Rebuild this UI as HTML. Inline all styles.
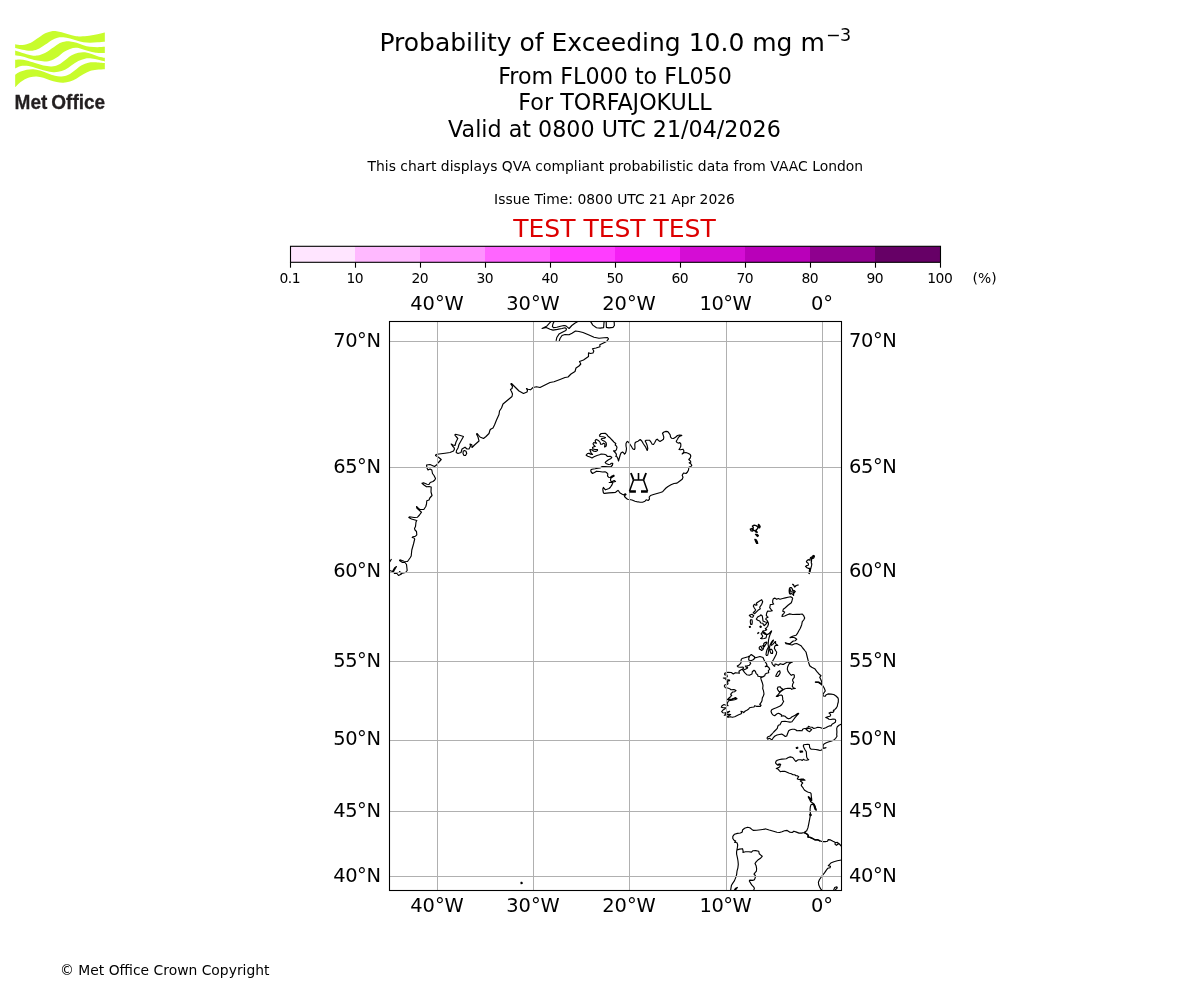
<!DOCTYPE html>
<html lang="en"><head><meta charset="utf-8"><title>Probability of Exceeding 10.0 mg m-3</title>
<style>
html,body{margin:0;padding:0;background:#fff;}
body{width:1200px;height:1000px;overflow:hidden;font-family:"DejaVu Sans","Liberation Sans",sans-serif;}
svg{display:block;position:absolute;left:0;top:0;}
text{font-family:"DejaVu Sans","Liberation Sans",sans-serif;fill:#000;}
.t18{font-size:25px;}
.t16{font-size:22.22px;}
.t14{font-size:19.44px;}
.t10{font-size:13.89px;}
.m{text-anchor:middle;}
.tk{letter-spacing:-0.5px;}
.lat{letter-spacing:-0.4px;}
.e{text-anchor:end;}
.grid{stroke:#b0b0b0;stroke-width:1;fill:none;}
.coast{stroke:#000;stroke-width:1.15;fill:none;stroke-linejoin:round;stroke-linecap:butt;}
</style></head><body>
<svg width="1200" height="1000" viewBox="0 0 1200 1000">
<g id="logo">
<path d="M15.17,44.17 C16.39,44.31 19.89,45.25 22.50,45.00 C25.11,44.75 28.06,43.96 30.83,42.67 C33.61,41.38 36.67,38.85 39.17,37.25 C41.67,35.65 43.75,34.10 45.83,33.08 C47.92,32.07 49.86,31.49 51.67,31.17 C53.47,30.85 55.00,30.99 56.67,31.17 C58.33,31.35 59.72,31.72 61.67,32.25 C63.61,32.78 66.11,33.71 68.33,34.33 C70.56,34.96 72.92,35.65 75.00,36.00 C77.08,36.35 78.47,36.44 80.83,36.42 C83.19,36.39 86.39,36.18 89.17,35.83 C91.94,35.49 94.89,34.89 97.50,34.33 C100.11,33.78 103.61,32.81 104.83,32.50 L104.83,41.67 C103.61,41.76 99.97,42.08 97.50,42.25 C95.03,42.42 92.36,42.67 90.00,42.67 C87.64,42.67 85.56,42.60 83.33,42.25 C81.11,41.90 78.89,41.21 76.67,40.58 C74.44,39.96 72.22,39.06 70.00,38.50 C67.78,37.94 65.42,37.39 63.33,37.25 C61.25,37.11 59.44,37.18 57.50,37.67 C55.56,38.15 53.75,38.99 51.67,40.17 C49.58,41.35 47.36,43.22 45.00,44.75 C42.64,46.28 39.86,48.32 37.50,49.33 C35.14,50.35 33.33,50.76 30.83,50.83 C28.33,50.90 25.11,50.21 22.50,49.75 C19.89,49.29 16.39,48.36 15.17,48.08 Z" fill="#c8fc2c"/>
<path d="M15.17,50.58 C16.39,51.00 19.89,52.32 22.50,53.08 C25.11,53.85 28.33,54.75 30.83,55.17 C33.33,55.58 35.14,55.93 37.50,55.58 C39.86,55.24 42.64,54.26 45.00,53.08 C47.36,51.90 49.44,50.03 51.67,48.50 C53.89,46.97 56.25,45.03 58.33,43.92 C60.42,42.81 62.22,42.25 64.17,41.83 C66.11,41.42 67.92,41.28 70.00,41.42 C72.08,41.56 74.44,42.04 76.67,42.67 C78.89,43.29 81.11,44.47 83.33,45.17 C85.56,45.86 87.64,46.49 90.00,46.83 C92.36,47.18 95.03,47.25 97.50,47.25 C99.97,47.25 103.61,46.90 104.83,46.83 L104.83,53.08 C103.33,53.01 98.58,53.01 95.83,52.67 C93.08,52.32 90.69,51.62 88.33,51.00 C85.97,50.38 83.75,49.44 81.67,48.92 C79.58,48.39 77.78,47.83 75.83,47.83 C73.89,47.83 71.94,48.25 70.00,48.92 C68.06,49.58 66.11,50.58 64.17,51.83 C62.22,53.08 60.42,55.03 58.33,56.42 C56.25,57.81 53.89,59.33 51.67,60.17 C49.44,61.00 47.36,61.35 45.00,61.42 C42.64,61.49 39.86,61.00 37.50,60.58 C35.14,60.17 33.33,59.61 30.83,58.92 C28.33,58.22 25.11,57.04 22.50,56.42 C19.89,55.79 16.39,55.38 15.17,55.17 Z" fill="#c8fc2c"/>
<path d="M15.17,59.75 C15.97,59.71 18.08,59.36 20.00,59.50 C21.92,59.64 24.17,59.99 26.67,60.58 C29.17,61.18 32.22,62.25 35.00,63.08 C37.78,63.92 40.56,65.03 43.33,65.58 C46.11,66.14 49.17,66.56 51.67,66.42 C54.17,66.28 56.11,65.79 58.33,64.75 C60.56,63.71 62.78,61.76 65.00,60.17 C67.22,58.57 69.44,56.42 71.67,55.17 C73.89,53.92 76.11,53.15 78.33,52.67 C80.56,52.18 82.78,52.04 85.00,52.25 C87.22,52.46 89.44,53.22 91.67,53.92 C93.89,54.61 96.14,55.76 98.33,56.42 C100.53,57.07 103.75,57.60 104.83,57.83 L104.83,61.42 C103.75,61.14 100.53,60.24 98.33,59.75 C96.14,59.26 93.89,58.68 91.67,58.50 C89.44,58.32 87.22,58.25 85.00,58.67 C82.78,59.08 80.56,59.92 78.33,61.00 C76.11,62.08 73.89,63.71 71.67,65.17 C69.44,66.62 67.22,68.64 65.00,69.75 C62.78,70.86 60.56,71.46 58.33,71.83 C56.11,72.21 54.17,72.28 51.67,72.00 C49.17,71.72 46.11,70.89 43.33,70.17 C40.56,69.44 37.78,68.39 35.00,67.67 C32.22,66.94 29.17,66.08 26.67,65.83 C24.17,65.58 21.92,65.72 20.00,66.17 C18.08,66.61 15.97,68.11 15.17,68.50 Z" fill="#c8fc2c"/>
<path d="M15.17,74.75 C15.97,74.26 18.08,72.67 20.00,71.83 C21.92,71.00 24.44,70.19 26.67,69.75 C28.89,69.31 31.11,69.03 33.33,69.17 C35.56,69.31 37.64,69.89 40.00,70.58 C42.36,71.28 45.00,72.46 47.50,73.33 C50.00,74.21 52.64,75.32 55.00,75.83 C57.36,76.35 59.44,76.60 61.67,76.42 C63.89,76.24 66.11,75.79 68.33,74.75 C70.56,73.71 72.78,71.76 75.00,70.17 C77.22,68.57 79.44,66.42 81.67,65.17 C83.89,63.92 86.11,63.15 88.33,62.67 C90.56,62.18 92.25,62.18 95.00,62.25 C97.75,62.32 103.19,62.94 104.83,63.08 L104.83,69.33 C103.47,69.40 99.14,69.47 96.67,69.75 C94.19,70.03 92.22,70.24 90.00,71.00 C87.78,71.76 85.56,73.08 83.33,74.33 C81.11,75.58 78.89,77.32 76.67,78.50 C74.44,79.68 72.22,80.72 70.00,81.42 C67.78,82.11 65.56,82.57 63.33,82.67 C61.11,82.76 58.89,82.42 56.67,82.00 C54.44,81.58 52.22,80.89 50.00,80.17 C47.78,79.44 45.56,78.29 43.33,77.67 C41.11,77.04 38.89,76.49 36.67,76.42 C34.44,76.35 32.22,76.62 30.00,77.25 C27.78,77.88 25.28,79.06 23.33,80.17 C21.39,81.28 19.69,82.74 18.33,83.92 C16.97,85.10 15.69,86.69 15.17,87.25 Z" fill="#c8fc2c"/>
<text x="14.6" y="108.8" textLength="90.6" lengthAdjust="spacingAndGlyphs" style="font-family:'Liberation Sans','DejaVu Sans',sans-serif;font-weight:bold;font-size:21px;fill:#231f20;stroke:#231f20;stroke-width:0.3px;word-spacing:-1.5px">Met Office</text>
</g>
<text class="t18 m" x="615" y="51.2">Probability of Exceeding 10.0 mg m<tspan font-size="17.5px" dx="1.2" dy="-10.2" style="letter-spacing:-0.6px">−3</tspan></text>
<text class="t16 m" x="615" y="83.6">From FL000 to FL050</text>
<text class="t16 m" x="615" y="109.9">For TORFAJOKULL</text>
<text class="t16 m" x="614.5" y="137.3">Valid at 0800 UTC 21/04/2026</text>
<text class="t10 m" x="615.3" y="171" style="letter-spacing:0.01px">This chart displays QVA compliant probabilistic data from VAAC London</text>
<text class="t10 m" x="614.5" y="204.2">Issue Time: 0800 UTC 21 Apr 2026</text>
<text class="t18 m" x="614.5" y="237.1" style="fill:#dd0000">TEST TEST TEST</text>
<rect x="290.00" y="246.3" width="65.50" height="16.0" fill="#ffe5ff"/>
<rect x="355.00" y="246.3" width="65.50" height="16.0" fill="#ffb9ff"/>
<rect x="420.00" y="246.3" width="65.50" height="16.0" fill="#ff92ff"/>
<rect x="485.00" y="246.3" width="65.50" height="16.0" fill="#ff65ff"/>
<rect x="550.00" y="246.3" width="65.50" height="16.0" fill="#ff3dff"/>
<rect x="615.00" y="246.3" width="65.50" height="16.0" fill="#f41ff4"/>
<rect x="680.00" y="246.3" width="65.50" height="16.0" fill="#d40dd4"/>
<rect x="745.00" y="246.3" width="65.50" height="16.0" fill="#b900b9"/>
<rect x="810.00" y="246.3" width="65.50" height="16.0" fill="#8f008f"/>
<rect x="875.00" y="246.3" width="65.50" height="16.0" fill="#660066"/>
<rect x="290.5" y="246.3" width="650.0" height="16.0" fill="none" stroke="#000" stroke-width="1.1"/>
<line x1="290.50" y1="262.3" x2="290.50" y2="267.70" stroke="#000" stroke-width="1.1"/>
 <text class="t10 m tk" x="289.80" y="282.9">0.1</text>
<line x1="355.50" y1="262.3" x2="355.50" y2="267.70" stroke="#000" stroke-width="1.1"/>
 <text class="t10 m tk" x="354.80" y="282.9">10</text>
<line x1="420.50" y1="262.3" x2="420.50" y2="267.70" stroke="#000" stroke-width="1.1"/>
 <text class="t10 m tk" x="419.80" y="282.9">20</text>
<line x1="485.50" y1="262.3" x2="485.50" y2="267.70" stroke="#000" stroke-width="1.1"/>
 <text class="t10 m tk" x="484.80" y="282.9">30</text>
<line x1="550.50" y1="262.3" x2="550.50" y2="267.70" stroke="#000" stroke-width="1.1"/>
 <text class="t10 m tk" x="549.80" y="282.9">40</text>
<line x1="615.50" y1="262.3" x2="615.50" y2="267.70" stroke="#000" stroke-width="1.1"/>
 <text class="t10 m tk" x="614.80" y="282.9">50</text>
<line x1="680.50" y1="262.3" x2="680.50" y2="267.70" stroke="#000" stroke-width="1.1"/>
 <text class="t10 m tk" x="679.80" y="282.9">60</text>
<line x1="745.50" y1="262.3" x2="745.50" y2="267.70" stroke="#000" stroke-width="1.1"/>
 <text class="t10 m tk" x="744.80" y="282.9">70</text>
<line x1="810.50" y1="262.3" x2="810.50" y2="267.70" stroke="#000" stroke-width="1.1"/>
 <text class="t10 m tk" x="809.80" y="282.9">80</text>
<line x1="875.50" y1="262.3" x2="875.50" y2="267.70" stroke="#000" stroke-width="1.1"/>
 <text class="t10 m tk" x="874.80" y="282.9">90</text>
<line x1="940.50" y1="262.3" x2="940.50" y2="267.70" stroke="#000" stroke-width="1.1"/>
 <text class="t10 m tk" x="939.80" y="282.9">100</text>
<text class="t10" x="972.6" y="282.9">(%)</text>
<g id="map"><clipPath id="mc"><rect x="389.5" y="321.5" width="452.0" height="569.0"/></clipPath>
<rect x="389.5" y="321.5" width="452.0" height="569.0" fill="#fff"/>
<g clip-path="url(#mc)">
<path class="coast" d="M389.0,570.2L392.5,571.5L394.5,568.0L396.5,566.5L395.0,569.0L393.5,571.5L394.5,573.5L397.0,573.5L398.5,575.5L401.5,574.0L399.5,571.5L401.5,573.5L405.5,572.5L407.2,570.5L406.5,564.5L405.0,562.5L402.5,562.5L399.5,560.5L400.0,559.8L404.0,561.2L407.5,561.5L410.0,558.0L411.2,556.0L411.8,550.0L413.5,544.0L414.7,539.0L414.0,538.0L412.2,537.5L413.0,536.8L415.5,536.2L416.8,534.8L416.5,531.5L415.0,530.0L414.5,528.5L415.5,526.5L416.0,522.0L416.8,520.5L415.0,520.0L411.5,519.0L408.8,517.5L409.5,516.8L414.0,517.5L417.5,517.2L419.5,515.0L421.5,512.2L419.0,510.0L416.8,508.0L416.5,506.5L418.5,508.5L420.0,509.5L423.8,509.5L425.8,506.5L426.5,504.0L426.8,500.8L429.0,500.0L429.8,498.0L432.0,495.5L431.0,492.0L431.2,487.0L429.0,486.5L426.5,486.8L424.0,485.0L422.0,483.2L423.5,482.8L427.0,484.2L429.0,484.5L430.2,482.5L433.0,481.5L434.8,480.0M389.0,562.2L390.0,561.5L391.5,559.0M434.8,480.0L435.5,478.5L434.0,475.5L432.5,473.5L431.8,470.0L430.0,469.0L428.0,470.0L427.0,468.0L426.5,465.0L430.0,464.5L434.5,466.5L436.5,465.0L438.5,462.5L441.2,459.5L438.5,457.2L435.5,455.5L436.0,454.5L439.0,454.0L445.0,453.2L450.0,452.5L453.5,451.0L454.5,449.0L454.0,447.5L452.5,446.0L451.2,444.0L453.0,445.0L455.0,445.5L456.0,442.0L457.8,438.5L456.5,437.0L454.8,435.0L455.5,434.3L459.5,435.2L463.5,436.5L461.5,440.0L459.0,444.5L458.0,448.0L456.5,450.5L456.2,452.5L458.0,453.5L461.0,452.5L462.0,449.0L465.0,447.2L467.0,449.0L469.0,449.0L470.5,446.0L470.0,444.0L471.8,444.8L472.0,447.5L474.5,445.0L479.0,441.0L478.0,437.0L476.5,434.0L477.2,433.5L480.0,437.0L483.5,438.5L486.0,436.5L489.0,433.5L490.0,430.0L491.0,429.0L493.0,428.0L494.5,425.0L496.5,420.0L499.0,414.5L499.5,411.0L501.5,408.0L503.0,404.0L506.0,401.5L509.0,399.0L512.0,396.5L512.5,394.0L511.5,391.5L510.5,390.0M463.2,451.2L463.0,453.5L464.0,455.5L465.5,455.5L466.7,453.5L466.0,451.2L464.5,450.5ZM510.5,390.0L510.5,389.5L512.0,388.5L512.5,386.5L510.8,384.0L511.5,383.5L515.0,387.0L519.0,391.0L523.5,393.5L527.0,392.0L527.5,390.5L526.5,388.5L528.0,389.2L530.5,389.8L533.0,387.5L536.5,386.8L540.0,387.5L545.0,385.0L550.0,382.5L554.0,381.8L560.0,379.5L565.0,377.5L568.0,377.0L571.0,374.0L575.0,371.5L576.0,368.0L579.0,366.0L580.8,364.0L579.5,361.5L583.5,360.0L588.5,356.5L588.5,352.8L590.5,353.5L593.0,353.0L593.8,351.0L592.5,348.8L596.0,348.0L600.0,346.8L599.8,344.8L603.0,343.2L606.5,341.5L608.5,338.8L607.5,337.5L604.0,337.8L599.0,338.2L594.0,337.2L589.0,335.0L583.0,332.5L579.0,331.5L575.5,331.0L572.0,333.2L569.0,334.8L565.0,334.5L562.0,335.5L560.0,338.5L559.2,341.2M554.1,321.4L552.9,324.0L552.4,326.4L553.4,327.6L556.8,327.3L560.5,326.2L563.9,325.5L565.9,325.9L567.4,327.1L569.1,328.5L571.8,325.5L574.8,323.2L577.8,321.6M551.1,321.4L547.0,325.9L542.1,328.4L546.2,327.5L550.0,329.2L553.0,330.1L557.5,329.4L562.0,328.5L565.0,327.8L566.5,328.9L565.8,330.4L562.8,331.9L559.0,334.1L556.8,337.5L556.1,340.9M590.5,321.4L592.8,325.1L596.5,327.8L600.2,328.1L603.6,327.6L604.1,321.4M606.2,321.4L606.4,327.4L608.9,327.9L613.0,327.4L614.4,325.5L614.1,321.4M599.2,435.5L601.2,433.5L605.0,433.2L606.5,434.2L608.0,436.2L610.0,437.8L612.5,440.5L614.0,442.2L615.8,443.5L615.2,445.0L616.5,446.2L617.0,447.2L616.5,449.5L615.5,450.8L613.5,450.8L614.5,451.8L616.0,453.5L616.5,455.0L615.8,456.5L617.0,456.8L618.0,459.0L618.5,461.0L619.2,458.5L620.2,455.0L621.0,453.0L622.5,452.0L623.8,453.0L624.5,454.2L625.5,453.2L626.2,450.8L626.5,448.5L626.0,446.0L626.0,443.5L626.8,442.0L627.5,441.4L628.8,442.5L629.8,444.0L630.8,445.5L632.2,447.8L633.2,449.2L634.5,449.5L635.0,448.0L634.8,445.0L635.0,443.0L636.0,442.0L638.0,441.2M599.2,435.5L600.2,436.5L603.0,436.8L605.5,437.5L604.5,438.2L602.0,438.5L601.2,439.2L602.2,440.2L604.5,441.2L606.2,442.8L606.4,445.0L605.8,446.5L604.5,447.0L604.8,445.5L605.0,444.0L603.5,443.2L602.2,444.2L600.5,444.2L600.2,442.5L599.0,441.0L597.5,440.0L596.2,439.4L595.2,440.5L595.5,442.2L596.5,443.2L595.0,443.0L593.8,442.5L593.0,443.8L593.8,445.2L595.2,446.5L593.8,446.8L592.5,447.5L593.0,449.0L595.0,449.5L597.5,449.5L597.5,450.5L595.8,451.4L593.8,451.2L592.2,450.0L590.8,449.5L589.8,449.8L590.5,451.2L591.0,453.0L592.5,454.5L590.5,454.2L589.0,453.2L587.5,453.5L586.2,455.2L587.8,456.2L590.0,457.0L592.0,457.9L594.0,456.8L597.0,455.5L599.5,454.8L601.2,454.0L604.0,454.2L606.0,454.8L607.5,456.5L610.0,456.2L611.8,457.2L611.0,458.5L608.5,459.8L606.5,461.2L605.2,462.5L606.0,463.5L608.5,464.5L610.2,464.2L611.5,463.2L612.8,463.2L612.5,465.0L611.2,466.5L608.0,466.8L605.0,466.5L602.2,466.5L600.0,468.0L598.0,468.2L595.0,468.8L592.0,469.2L590.5,470.2M590.5,470.2L591.2,472.0L592.5,473.5L594.5,472.5L596.5,471.2L599.5,471.5L602.5,472.0L605.0,471.8L606.5,472.5L607.8,473.8L607.5,475.8L608.5,477.2L610.2,477.5L612.0,476.0L613.8,475.2L614.2,476.0L612.5,477.0L610.8,478.2L610.5,480.0L611.0,481.5L612.5,481.2L614.2,480.5L615.5,481.5L613.5,482.0L611.0,482.5L609.2,482.5L611.0,482.2L612.8,482.8L611.8,485.2L610.2,487.5L609.0,488.5L607.0,489.2L605.5,489.8L604.2,488.5L603.4,487.4L602.8,489.0L603.0,491.0L603.5,493.0L604.5,493.4L609.0,492.9L613.0,492.6L615.5,492.4L616.5,491.5L618.0,490.4L618.8,491.2L619.8,492.8L621.8,494.0L623.8,495.0L625.2,493.8L626.0,494.5L624.8,495.5L624.5,496.5L626.0,498.0L627.5,499.2L629.5,499.5L632.0,500.0L635.0,501.2L638.0,502.0M638.0,441.2L640.2,439.5L641.8,441.0L643.5,444.0L645.5,446.8L646.5,449.0L647.2,450.5L647.8,448.5L647.2,445.5L646.2,443.0L645.2,441.0L646.2,440.2L649.5,440.2L650.8,441.8L652.2,444.2L653.5,444.5L654.8,442.5L656.2,439.8L657.2,439.2L658.5,440.5L660.0,441.4L662.0,440.2L663.5,439.2L663.8,437.2L663.0,434.5L662.5,433.2L664.0,432.0L666.0,431.4L667.8,431.6L669.0,433.2L670.2,434.8L670.5,436.8L671.5,438.2L673.5,438.5L675.5,437.2L677.5,435.5L679.5,435.0L681.8,435.4L679.8,436.2L678.5,437.2L677.5,439.2L676.2,441.2L677.0,442.5L678.8,443.2L679.8,442.5L680.8,443.8L680.8,446.2L680.0,448.0L679.0,449.5L680.5,449.8L683.0,449.2L683.8,450.5L683.8,452.2L682.2,454.0L684.0,452.8L686.0,452.5L688.5,453.5L690.2,454.5L690.8,456.0L690.2,458.0L688.8,459.5L690.5,461.2L690.8,462.2L689.2,462.8L691.0,464.0L691.8,465.2L691.0,466.5M691.0,466.5L689.2,467.0L688.8,468.0L688.5,470.0L687.5,472.0L686.0,473.5L683.5,473.0L682.2,475.2L683.0,477.2L682.2,479.2L680.5,480.5L678.5,482.0L677.0,483.1L674.0,483.5L671.0,484.8L668.0,486.5L666.0,488.0L664.0,490.2L662.5,491.8L660.5,492.5L657.0,493.5L653.5,494.5L650.5,495.5L649.2,497.2L649.5,499.2L648.2,500.5L646.2,499.8L645.0,501.2L642.5,502.2L640.0,502.2L638.0,501.8M813.6,555.4L814.5,556.0L813.9,557.8L813.0,558.4L811.8,558.7L811.5,560.2L811.5,561.7L811.2,562.9L811.8,563.8L811.5,565.9L810.9,568.0L810.3,570.4L810.0,571.9L809.4,571.6L809.5,569.5L809.7,568.3L808.2,568.3L807.0,567.7L805.5,566.4L806.7,565.6L808.2,565.3L808.5,564.1L807.9,562.9L806.7,562.3L806.4,561.4L807.3,560.5L808.2,559.6L809.4,560.2L810.0,559.0L810.6,557.5L811.8,556.9L812.7,556.0ZM789.9,587.6L791.4,587.6L792.3,588.8L792.6,590.3L794.1,590.6L795.3,591.5L794.4,592.7L793.5,593.6L793.6,595.4L792.6,594.2L791.4,593.6L790.2,594.2L789.3,593.0L789.3,591.2L789.5,589.1ZM790.5,589.4L790.8,591.5L792.0,592.1L793.2,591.8M792.7,598.0L792.0,600.7L791.3,602.7L788.0,605.3L785.3,607.7L783.3,609.3L782.7,611.3L784.7,612.0L784.0,613.3L782.3,615.0L782.0,616.5L784.7,616.0L787.3,614.7L789.7,613.9L792.7,614.5L796.7,614.3L800.0,614.3L802.3,614.1L803.7,615.7L804.7,618.0L803.7,620.0L802.3,621.7L801.7,624.7L800.3,628.3L798.7,631.0L797.3,633.7L796.0,635.3L793.3,636.0L791.0,637.0L790.0,637.7L792.7,637.3L794.7,637.7L796.7,639.3L795.3,640.7L793.3,641.0L791.7,642.3L790.0,643.7L787.3,643.3L785.3,642.7L786.0,643.7L788.7,644.3L792.0,645.0L794.7,643.7L796.7,643.5L798.7,644.5L801.0,645.7L802.7,648.0L804.7,650.3M792.7,598.0L790.7,596.7L788.0,597.3L785.3,597.9L782.7,598.5L780.0,599.2L778.3,598.5L776.7,599.3L774.7,598.1L773.3,598.7L772.7,600.7L772.7,602.7L773.7,604.0L772.0,604.5L770.3,604.5L770.0,606.3L769.7,607.7L771.0,609.3L772.3,610.8L770.0,611.3L767.7,611.0L766.7,613.0L766.3,615.3L767.3,616.7L768.0,617.3L766.3,618.0L765.7,619.2L767.3,620.7L768.3,622.7L768.5,624.0L767.7,626.3L766.3,628.0L765.3,628.7L766.7,629.7L765.3,630.5L763.3,630.8M756.3,619.0L758.0,616.7L760.0,615.7L761.0,614.8L762.3,616.0L762.7,618.7L763.0,621.0L765.3,622.0L767.3,622.3L766.0,624.0L764.3,625.7L763.3,624.7L763.0,623.3L760.7,623.0L759.7,621.0L757.7,620.3ZM761.7,599.7L762.7,601.7L761.7,604.3L760.3,606.3L759.7,607.3L760.3,608.7L758.0,610.3L756.0,612.3L754.7,613.7L753.3,612.7L755.0,611.0L755.7,610.0L754.3,608.0L753.3,606.0L754.3,604.3L756.0,605.3L757.0,605.0L756.3,603.3L757.7,602.3L760.0,600.7ZM749.3,615.3L752.0,614.3L753.7,615.7L752.7,617.3L751.0,617.0ZM750.5,619.7L752.0,619.7L752.3,622.0L752.0,624.3L750.7,624.3L750.3,622.0ZM763.4,630.8L762.5,631.5L763.8,632.0L765.1,633.0L766.5,634.3L768.0,634.3L769.4,633.2L770.4,632.0L771.6,630.8L771.3,632.0L770.4,633.8L769.7,635.5L769.0,638.0L768.5,640.4L768.3,642.5L768.1,644.6L768.5,646.7L768.0,648.1L767.1,649.5L766.4,652.0L766.0,654.4L766.5,655.5L767.6,655.3L768.1,653.7L768.5,651.6L768.8,649.5L769.4,648.1L769.7,646.7L770.0,645.3L770.6,643.9L771.5,642.1L772.5,640.8L773.5,640.0L772.9,641.5L771.8,642.9L771.1,644.2L771.5,645.3L772.5,644.6L773.9,643.2L775.0,641.8L775.6,641.5L775.5,643.2L776.0,644.1L777.4,645.0L777.8,645.5L776.4,645.3L775.3,645.6L774.6,646.7L774.4,648.5L775.3,649.9L776.0,650.4M762.0,632.7L761.1,633.8L762.0,634.8L762.7,636.2L762.0,637.6L760.6,638.5L762.0,638.8L764.1,638.5L765.9,638.0L766.5,636.2L766.7,634.8L765.1,634.1L763.8,633.0ZM759.2,647.4L760.2,646.4L762.0,646.0L763.4,645.6L763.8,647.4L763.0,649.5L761.6,650.5L760.6,649.5L759.4,649.1ZM761.0,647.4L762.0,647.8L762.0,649.1M763.8,643.5L765.1,642.5L766.5,642.1L766.9,642.9L765.5,644.6L764.5,646.4L763.6,645.8ZM769.7,649.5L771.1,649.1L772.1,649.9L772.7,651.6L772.5,653.4L771.1,653.4L770.4,652.0ZM804.3,650.0L806.0,652.0L807.0,656.0L808.0,660.0L808.7,662.7L809.7,665.7L811.7,667.3L814.7,668.7L816.7,671.3L818.7,673.7L821.0,675.7L819.7,677.3L820.7,679.3L821.7,681.7L822.0,684.0L820.3,683.0L818.7,682.0L815.3,682.1L818.7,682.5L821.0,684.3L823.0,686.0L824.3,688.3L825.3,691.0L824.0,692.7L823.0,694.3L823.3,696.0L825.0,696.3L826.3,694.7L828.0,693.9L831.0,694.1L833.7,694.5L836.0,696.0L838.0,698.0L838.5,700.0M775.0,650.0L776.7,652.0L776.3,654.3L775.0,656.7L773.7,659.3L772.7,661.0L771.7,662.0L772.3,664.0L773.7,665.7L774.7,666.3L775.0,664.0L776.3,664.3L778.3,665.3L780.3,663.7L782.0,664.3L783.7,664.3L785.7,663.0L787.7,662.1L790.0,662.3L792.3,662.3L790.7,662.7L789.0,664.0L787.7,666.7L787.3,669.0L788.0,671.3L789.7,673.7L791.3,675.3L793.0,674.5L794.3,675.0L794.3,677.3L792.7,679.3L792.7,681.0L793.7,682.3L792.7,684.0L792.3,686.3L793.3,687.7L795.3,688.5L793.0,688.7L791.7,689.3L790.7,688.3L787.7,688.3L785.0,688.8L783.3,689.7L781.0,691.3L779.7,692.7L778.3,694.3L776.3,696.3L778.0,696.3L779.3,695.3L781.3,695.0L782.3,695.7L782.7,698.0L782.7,700.0M777.3,688.7L778.0,687.0L780.0,686.7L781.3,688.3L783.0,689.3L781.0,690.8L779.3,691.9L778.3,690.7ZM775.7,676.3L776.7,674.0L778.0,671.7L779.7,670.7L780.2,672.7L779.3,674.7L777.7,676.5ZM724.3,674.0L725.3,673.0L728.0,672.3L731.3,672.5L733.3,674.0L735.3,672.7L737.7,673.0L739.3,673.3L739.0,671.3L740.7,670.0L742.7,669.0L743.7,668.0L743.0,667.0L740.7,667.3L738.3,667.0L737.3,666.0L739.3,664.7L740.7,663.3L741.3,661.3L741.0,660.0L742.0,658.5L744.7,657.7L748.0,656.7L750.0,655.7L751.3,654.5L753.0,655.7L754.7,657.0L754.7,658.0L757.3,657.2L760.0,656.5L763.0,657.5L764.0,659.7L765.0,661.7L766.3,663.3L767.0,665.3L765.3,666.7L767.3,666.3L769.0,667.7L769.7,669.3L768.3,670.7L768.7,672.7L766.7,673.3L765.3,674.0L764.7,675.7L762.7,677.0L760.7,677.7L761.3,680.0L762.3,682.7L763.0,685.3L762.7,688.7L763.3,690.0M749.7,656.1L748.8,658.1L748.7,660.0L750.7,660.8L752.7,660.0L754.3,658.7L754.7,657.5M750.3,661.0L750.0,662.3L750.7,663.3L749.3,665.3L747.3,665.7L745.3,666.0L746.3,667.3L747.7,667.0L747.3,668.3L745.3,669.3L743.7,670.0L742.7,670.0L744.7,672.7L746.7,674.7L749.3,675.3L752.0,674.0L752.3,671.7L754.0,670.3L755.3,671.3L756.0,673.3L757.7,675.0L758.0,676.3L760.7,676.7L762.7,676.7L764.7,675.7M724.3,674.0L725.0,675.0L726.7,674.7L727.3,676.3L726.3,677.7L723.3,678.0L725.3,678.7L726.3,680.0L729.3,679.9L729.7,680.7L727.3,681.2L728.0,683.7L727.0,684.5L725.0,684.7L724.3,686.0L725.3,687.7L727.7,688.0L729.7,688.7L730.7,689.7L734.0,689.5L736.0,690.5L734.7,691.7L732.7,692.0L731.3,693.3L730.7,694.7L731.7,695.3L730.3,697.0L728.7,698.3L727.3,699.7L729.3,699.3L732.0,699.0L734.7,698.0L735.3,697.5L737.0,698.7L734.7,699.7L732.0,700.3L728.7,700.8L727.7,702.3L727.0,704.3M727.0,704.3L728.0,705.7L727.0,705.3L725.3,705.0L724.0,704.5L722.0,705.7L721.3,707.3L723.3,707.7L725.7,707.9L724.7,709.0L723.0,710.0L721.7,711.7L722.7,712.7L725.0,713.0L727.3,712.0L729.7,711.3L727.7,712.7L726.0,713.7L724.3,715.3L726.3,715.0L728.7,714.3L730.7,714.5L728.7,715.7L727.0,717.0L728.3,717.3L730.3,716.7L732.3,717.3L734.7,716.7L736.7,715.7L738.7,714.7L740.7,714.0L741.7,713.0L741.0,711.3L742.7,711.7L743.7,712.7L745.3,711.0L747.3,710.0L748.7,709.0L749.7,707.7L752.0,707.3L754.0,707.0L754.7,705.7L756.3,706.3L758.7,706.3L760.3,706.3L761.0,705.3L759.7,704.3L761.0,702.7L762.0,700.7L762.3,698.0L763.3,696.0L764.0,694.0L763.7,692.0L763.3,690.0M782.7,700.0L783.7,701.3L782.7,703.0L781.7,704.7L779.7,706.3L776.3,707.7L773.7,708.7L771.7,709.7L771.0,711.3L771.7,713.3L773.0,715.0L774.7,715.7L776.7,714.0L778.3,713.3L780.0,713.9L781.7,715.0L781.3,716.3L783.3,715.7L785.0,716.3L787.0,718.1L788.7,718.8L790.3,718.3L791.7,717.0L793.7,716.0L795.7,715.0L797.7,713.7L798.7,713.3L797.0,715.3L795.0,717.7L793.3,720.0L792.0,721.7L790.0,722.1L787.7,721.7L785.0,721.3L781.7,721.5L780.7,723.3L780.0,724.7L778.3,725.3L777.7,726.7L777.3,728.3L775.7,730.0L773.7,732.0L772.0,734.0L770.0,736.0L768.0,736.7L767.0,738.0L767.7,739.2L769.3,738.3L771.0,739.2L772.0,739.7L773.3,737.7L775.0,736.0L777.0,735.0L779.3,734.5L781.7,734.1L783.7,735.3L785.3,736.5L786.7,736.0L787.7,733.3L788.7,730.7L790.3,729.7L792.3,729.2L794.3,729.2L796.0,730.0L797.0,730.8L799.7,730.5L802.0,730.8L802.7,729.3L803.7,728.8L806.0,728.3L808.0,727.7L808.3,726.3L810.0,727.0L812.0,727.3L813.7,728.5L815.7,728.0L817.7,727.3L820.0,727.5L822.0,728.3L823.7,728.5L825.7,727.7L828.0,726.5L830.0,725.7L831.0,726.0L832.0,724.3L833.7,723.3L835.3,722.3L835.7,720.3L835.0,719.2L833.0,719.0L831.0,719.5L829.0,719.3L827.7,718.3L825.7,717.5L827.7,716.8L830.0,716.3L830.7,715.0L830.0,713.7L829.0,713.0L830.7,712.3L833.0,712.3L834.0,711.0L833.3,710.3L834.7,709.7L836.3,708.0L837.3,706.3L837.7,704.0L838.3,702.0L838.3,700.0M806.0,729.3L808.3,728.3L810.3,728.7L811.7,729.7L809.7,731.7L807.7,730.7ZM841.7,724.0L839.0,725.3L837.3,726.7L836.7,728.7L836.9,732.0L836.7,734.7L837.0,736.3L835.7,738.3L834.3,739.7L831.7,741.0L829.0,741.7L826.3,742.7L824.0,744.0L823.0,745.7L823.1,747.7L824.7,748.1L826.0,747.7L823.7,748.0L822.3,749.0L821.7,750.0L820.0,750.5L818.0,749.9L815.7,749.5L813.0,749.3L811.0,749.2L809.7,747.7L809.5,746.0L809.3,744.5L807.7,744.3L805.7,744.5L803.7,744.8L803.3,746.0L804.0,747.7L805.0,749.7L806.3,751.7L806.5,754.7L806.7,757.3M806.7,757.3L807.7,759.0L808.7,759.7L806.7,760.3L804.7,760.0L803.3,759.3L802.3,760.5L801.0,759.7L798.3,759.7L797.0,760.5L795.8,761.5L794.7,760.2L793.7,758.7L792.7,757.5L790.3,756.9L788.3,757.5L786.3,758.7L784.3,759.0L782.0,759.1L779.7,759.5L777.3,760.3L776.0,761.3L775.5,762.9L776.7,764.3L778.0,765.3L779.0,764.0L780.7,764.3L780.0,765.7L779.7,767.0L778.0,767.7L776.3,768.5L778.3,769.3L779.3,770.7L780.3,771.7L782.3,771.3L784.7,771.3L787.0,772.3L789.3,773.3L791.3,773.7L793.0,774.7L794.7,774.7L796.0,775.7L797.3,775.7L798.7,776.7L797.7,778.0L797.3,779.0L799.0,779.5L801.3,779.1L803.3,779.0L805.0,780.2L803.0,780.0L801.3,780.3L800.3,781.0L801.7,782.0L802.7,783.0L801.5,784.3L801.3,785.7L802.7,787.3L803.7,789.0L804.7,790.3L806.7,791.5L808.3,792.3L810.3,792.7L811.1,793.7L811.3,796.3L811.7,799.0L811.7,800.7L810.3,798.3L808.3,796.7L809.0,798.3L810.0,800.3L810.7,801.7L812.3,802.7L814.0,804.0L815.0,806.0L815.7,808.3L816.3,810.3L815.0,809.3L814.3,807.0L813.7,805.0L812.0,804.2L811.0,804.7L810.3,807.0L810.0,810.3M810.1,810.0L810.5,814.7L809.6,819.4L808.8,823.6L807.9,827.9L806.7,830.8L804.1,832.5M804.1,832.5L801.6,833.1L799.0,833.1L796.5,832.1L793.9,831.2L792.2,832.5L789.6,832.1L787.1,830.4L784.5,830.8L782.0,831.7L779.5,832.5L776.9,832.3L773.5,831.2L769.2,830.0L765.0,828.7M804.1,832.5L806.7,833.8L808.4,835.5L807.9,837.0L810.1,837.4L812.6,838.5L815.2,839.9L817.7,839.8L820.3,841.0L822.6,841.6L825.4,841.6L827.5,841.3L828.3,839.6L830.5,839.9L833.0,841.3L835.1,842.3L837.7,842.7L839.4,844.0L841.5,846.4M835.1,842.7L837.3,842.3L838.3,844.0L836.4,845.3L835.1,844.4ZM841.5,860.0L837.3,860.8L833.9,861.7L831.3,862.7L829.6,864.4L828.3,865.7L830.5,866.3L830.0,867.8L827.9,868.2L826.2,870.4L824.5,872.9L822.8,875.0L821.1,877.2L819.4,879.7L818.4,882.3L818.7,884.8L819.8,887.4L821.1,889.5L822.1,890.6M833.4,890.6L834.7,887.5L836.8,886.9L837.3,887.8L835.6,889.5L834.9,890.6M765.1,829.1L760.8,829.7L756.6,830.2L753.6,830.4L751.9,829.4L749.8,827.7L747.6,827.3L744.6,828.3L742.5,830.0L742.3,831.9L740.4,833.0L737.4,833.4L734.5,834.2L732.8,836.4L732.8,838.5L734.0,840.2L735.7,841.0L734.5,842.3L737.0,842.7L737.7,844.9L737.4,847.4L737.0,849.5L736.6,851.7L736.6,854.2L737.4,857.6L738.0,861.0L738.3,864.4L737.9,867.8L737.0,871.2L736.6,874.6L735.7,877.6L734.5,880.6L732.8,883.1L731.5,885.2L731.0,887.8L730.6,890.6M734.0,890.6L735.7,888.2L737.4,887.4L736.1,889.1L735.3,890.6M737.0,850.0L739.5,849.1L742.5,848.7L743.1,850.8L743.0,852.5L745.5,851.8L748.9,851.7L751.5,852.1L752.7,850.8L755.7,850.6L758.7,851.2L759.3,853.8L760.8,855.1L762.2,856.3L760.8,858.0L758.3,859.7L756.1,861.9L755.0,863.6L756.1,865.7L756.6,868.7L756.4,871.2L754.9,872.9L754.0,874.2L755.3,875.5L755.3,877.6L754.4,879.7L752.7,880.4L749.8,880.1L749.3,881.0L750.6,883.1L751.9,885.2L753.6,886.9L754.4,888.2L753.6,890.6"/>
<path class="coast" style="stroke-width:1.3;" d="M752.4,526.1L754.2,525.2L756.0,525.6L757.5,526.7L758.1,527.6L757.2,529.1L756.0,530.0L756.6,531.2L757.2,532.4L756.0,532.1L755.1,530.9L753.9,530.3L753.0,529.4L753.3,527.6ZM750.3,529.1L751.8,528.5L753.0,530.0L752.7,531.2L751.2,530.9ZM808.4,573.2L809.9,573.6M792.3,584.1L793.5,584.9L794.7,587.0L796.2,585.5L798.6,584.8M762.9,632.0L764.1,633.4L765.5,634.2M757.3,633.6L759.2,632.4M763.8,625.2L764.8,625.5M728.0,699.9L732.0,699.3L735.0,698.3L736.3,698.5M777.7,764.3L779.3,764.5L780.7,764.7M792.6,590.0L794.1,590.9L793.5,593.0L793.4,594.8M815.3,682.1L818.3,682.3L820.7,683.7M814.0,804.3L815.0,807.0L816.0,810.0"/>
<path class="coast" style="fill:#000;" d="M758.4,524.3L759.6,525.2L760.2,526.7L759.6,527.9L758.4,527.3L758.1,526.1ZM755.4,534.2L756.9,534.2L758.4,535.4L757.8,536.6L756.6,535.7ZM754.8,539.3L756.0,539.6L757.2,541.4L757.8,543.5L756.6,543.5L755.7,541.7ZM749.3,626.7L750.1,626.3L750.5,627.1L749.7,627.5ZM759.9,626.4L760.6,626.0L761.3,626.6L761.0,627.4L760.2,627.3ZM796.2,747.5L797.7,747.2L797.8,748.3L796.5,748.5ZM800.0,751.0L802.3,751.0L802.7,752.0L800.3,752.3ZM809.6,814.2L810.9,814.1L811.3,815.3L810.1,815.8ZM521.0,882.3L522.0,882.3L522.2,883.5L521.1,883.6Z"/>
<path class="coast" style="stroke-width:1.5;" d="M813.8,555.7L813.0,557.2L811.5,558.2L811.2,559.9L811.4,561.4M810.0,568.0L809.8,569.8L809.5,571.8M789.6,588.2L789.5,590.6L789.8,593.0L790.5,593.9M795.7,715.2L798.3,713.5M808.3,796.7L810.0,798.7L811.3,800.7"/>
<path class="coast" style="stroke-width:1.4;" d="M804.1,832.5L806.7,833.8L808.4,835.5L807.9,837.0L810.1,837.4L812.6,838.5L815.2,839.9L817.7,839.8L820.3,841.0"/>
</g>
<line class="grid" x1="437.50" y1="321.5" x2="437.50" y2="890.5"/>
<line class="grid" x1="533.50" y1="321.5" x2="533.50" y2="890.5"/>
<line class="grid" x1="629.50" y1="321.5" x2="629.50" y2="890.5"/>
<line class="grid" x1="726.50" y1="321.5" x2="726.50" y2="890.5"/>
<line class="grid" x1="822.50" y1="321.5" x2="822.50" y2="890.5"/>
<line class="grid" x1="389.5" y1="876.50" x2="841.5" y2="876.50"/>
<line class="grid" x1="389.5" y1="811.50" x2="841.5" y2="811.50"/>
<line class="grid" x1="389.5" y1="740.50" x2="841.5" y2="740.50"/>
<line class="grid" x1="389.5" y1="661.50" x2="841.5" y2="661.50"/>
<line class="grid" x1="389.5" y1="572.50" x2="841.5" y2="572.50"/>
<line class="grid" x1="389.5" y1="467.50" x2="841.5" y2="467.50"/>
<line class="grid" x1="389.5" y1="341.50" x2="841.5" y2="341.50"/>
<g id="volcano" stroke="#000" fill="none" stroke-linecap="butt" stroke-linejoin="miter">
<path d="M629.45,491.3 L633.5,479.95 L643.55,479.95 L647.6,491.3" stroke-width="1.5"/>
<path d="M629.3,491.55 L635.9,491.55 M641,491.55 L647.75,491.55" stroke-width="2.5"/>
<path d="M638.5,473 L638.5,479.9" stroke-width="1.6"/>
<path d="M630.9,473 L633.5,479.6 M646.1,473 L643.55,479.6" stroke-width="1.9"/>
</g>
<rect x="389.5" y="321.5" width="452.0" height="569.0" fill="none" stroke="#000" stroke-width="1.1"/>
<text class="t14 m" x="437.00" y="310.3">40°W</text>
<text class="t14 m" x="437.00" y="912.3">40°W</text>
<text class="t14 m" x="533.00" y="310.3">30°W</text>
<text class="t14 m" x="533.00" y="912.3">30°W</text>
<text class="t14 m" x="629.00" y="310.3">20°W</text>
<text class="t14 m" x="629.00" y="912.3">20°W</text>
<text class="t14 m" style="letter-spacing:-0.5px" x="725.40" y="310.3">10°W</text>
<text class="t14 m" style="letter-spacing:-0.5px" x="725.40" y="912.3">10°W</text>
<text class="t14 m" x="822.00" y="310.3">0°</text>
<text class="t14 m" x="822.00" y="912.3">0°</text>
<text class="t14 e lat" x="380.6" y="881.70">40°N</text>
<text class="t14 lat" x="849" y="881.70">40°N</text>
<text class="t14 e lat" x="380.6" y="816.70">45°N</text>
<text class="t14 lat" x="849" y="816.70">45°N</text>
<text class="t14 e lat" x="380.6" y="744.80">50°N</text>
<text class="t14 lat" x="849" y="744.80">50°N</text>
<text class="t14 e lat" x="380.6" y="666.70">55°N</text>
<text class="t14 lat" x="849" y="666.70">55°N</text>
<text class="t14 e lat" x="380.6" y="576.80">60°N</text>
<text class="t14 lat" x="849" y="576.80">60°N</text>
<text class="t14 e lat" x="380.6" y="472.70">65°N</text>
<text class="t14 lat" x="849" y="472.70">65°N</text>
<text class="t14 e lat" x="380.6" y="346.70">70°N</text>
<text class="t14 lat" x="849" y="346.70">70°N</text>
</g>
<text class="t10" x="60" y="974.7">© Met Office Crown Copyright</text>
</svg>
</body></html>
